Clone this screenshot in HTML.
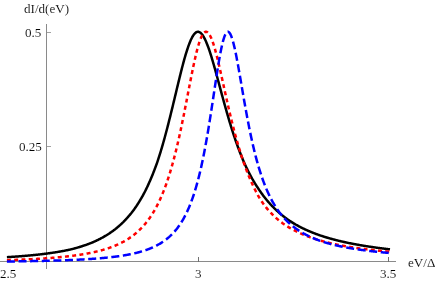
<!DOCTYPE html>
<html><head><meta charset="utf-8"><style>
html,body{margin:0;padding:0;background:#fff;}
body{width:436px;height:281px;overflow:hidden;position:relative;font-family:"Liberation Serif",serif;color:#000;}
svg{position:absolute;left:0;top:0;}
.t{position:absolute;font-size:13.1px;line-height:13px;white-space:nowrap;will-change:transform;opacity:0.999;-webkit-text-stroke:0.12px #fff;}
</style></head><body>
<svg width="436" height="281" viewBox="0 0 436 281">
<g stroke="#8a8a8a" stroke-width="1" fill="none" shape-rendering="crispEdges">
<line x1="0" y1="261.5" x2="396" y2="261.5"/>
<line x1="46.5" y1="24" x2="46.5" y2="269"/>
</g>
<g stroke="#707070" stroke-width="1" fill="none" shape-rendering="crispEdges">
<line x1="198.5" y1="257" x2="198.5" y2="262"/>
<line x1="388.5" y1="257" x2="388.5" y2="262"/>
</g>
<g stroke="#a2a2a2" stroke-width="1" fill="none" shape-rendering="crispEdges">
<line x1="47" y1="32.5" x2="51" y2="32.5"/>
<line x1="47" y1="146.5" x2="51" y2="146.5"/>
</g>
<g fill="none" stroke-width="2.5" stroke-linejoin="round">
<path stroke="#000" d="M6.90,257.16 L7.30,257.14 L7.70,257.12 L8.10,257.09 L8.50,257.07 L8.90,257.04 L9.30,257.02 L9.70,256.99 L10.10,256.96 L10.50,256.94 L10.90,256.91 L11.30,256.89 L11.70,256.86 L12.10,256.83 L12.50,256.81 L12.90,256.78 L13.30,256.75 L13.70,256.73 L14.10,256.70 L14.50,256.67 L14.90,256.64 L15.30,256.62 L15.70,256.59 L16.10,256.56 L16.50,256.53 L16.90,256.50 L17.30,256.47 L17.70,256.44 L18.10,256.41 L18.50,256.38 L18.90,256.35 L19.30,256.32 L19.70,256.29 L20.10,256.26 L20.50,256.23 L20.90,256.20 L21.30,256.17 L21.70,256.14 L22.10,256.10 L22.50,256.07 L22.90,256.04 L23.30,256.01 L23.70,255.97 L24.10,255.94 L24.50,255.91 L24.90,255.87 L25.30,255.84 L25.70,255.81 L26.10,255.77 L26.50,255.74 L26.90,255.70 L27.30,255.67 L27.70,255.63 L28.10,255.59 L28.50,255.56 L28.90,255.52 L29.30,255.48 L29.70,255.45 L30.10,255.41 L30.50,255.37 L30.90,255.33 L31.30,255.30 L31.70,255.26 L32.10,255.22 L32.50,255.18 L32.90,255.14 L33.30,255.10 L33.70,255.06 L34.10,255.02 L34.50,254.98 L34.90,254.94 L35.30,254.90 L35.70,254.86 L36.10,254.81 L36.50,254.77 L36.90,254.73 L37.30,254.69 L37.70,254.64 L38.10,254.60 L38.50,254.55 L38.90,254.51 L39.30,254.47 L39.70,254.42 L40.10,254.37 L40.50,254.33 L40.90,254.28 L41.30,254.24 L41.70,254.19 L42.10,254.14 L42.50,254.09 L42.90,254.04 L43.30,254.00 L43.70,253.95 L44.10,253.90 L44.50,253.85 L44.90,253.80 L45.30,253.75 L45.70,253.69 L46.10,253.64 L46.50,253.59 L46.90,253.54 L47.30,253.49 L47.70,253.43 L48.10,253.38 L48.50,253.32 L48.90,253.27 L49.30,253.21 L49.70,253.16 L50.10,253.10 L50.50,253.05 L50.90,252.99 L51.30,252.93 L51.70,252.87 L52.10,252.81 L52.50,252.75 L52.90,252.69 L53.30,252.63 L53.70,252.57 L54.10,252.51 L54.50,252.45 L54.90,252.39 L55.30,252.33 L55.70,252.26 L56.10,252.20 L56.50,252.13 L56.90,252.07 L57.30,252.00 L57.70,251.94 L58.10,251.87 L58.50,251.80 L58.90,251.73 L59.30,251.66 L59.70,251.59 L60.10,251.52 L60.50,251.45 L60.90,251.38 L61.30,251.31 L61.70,251.24 L62.10,251.16 L62.50,251.09 L62.90,251.02 L63.30,250.94 L63.70,250.86 L64.10,250.79 L64.50,250.71 L64.90,250.63 L65.30,250.55 L65.70,250.47 L66.10,250.39 L66.50,250.31 L66.90,250.23 L67.30,250.15 L67.70,250.07 L68.10,249.98 L68.50,249.90 L68.90,249.81 L69.30,249.72 L69.70,249.64 L70.10,249.55 L70.50,249.45 L70.90,249.35 L71.30,249.25 L71.70,249.15 L72.10,249.05 L72.50,248.94 L72.90,248.84 L73.30,248.74 L73.70,248.63 L74.10,248.53 L74.50,248.42 L74.90,248.31 L75.30,248.20 L75.70,248.09 L76.10,247.98 L76.50,247.87 L76.90,247.76 L77.30,247.64 L77.70,247.53 L78.10,247.41 L78.50,247.29 L78.90,247.17 L79.30,247.06 L79.70,246.93 L80.10,246.81 L80.50,246.69 L80.90,246.57 L81.30,246.44 L81.70,246.32 L82.10,246.19 L82.50,246.06 L82.90,245.93 L83.30,245.80 L83.70,245.67 L84.10,245.53 L84.50,245.40 L84.90,245.26 L85.30,245.12 L85.70,244.99 L86.10,244.85 L86.50,244.70 L86.90,244.56 L87.30,244.42 L87.70,244.27 L88.10,244.13 L88.50,243.98 L88.90,243.83 L89.30,243.68 L89.70,243.52 L90.10,243.37 L90.50,243.21 L90.90,243.05 L91.30,242.89 L91.70,242.73 L92.10,242.57 L92.50,242.40 L92.90,242.23 L93.30,242.06 L93.70,241.88 L94.10,241.70 L94.50,241.52 L94.90,241.34 L95.30,241.16 L95.70,240.98 L96.10,240.79 L96.50,240.60 L96.90,240.41 L97.30,240.22 L97.70,240.03 L98.10,239.83 L98.50,239.64 L98.90,239.44 L99.30,239.24 L99.70,239.03 L100.10,238.83 L100.50,238.62 L100.90,238.41 L101.30,238.20 L101.70,237.98 L102.10,237.76 L102.50,237.54 L102.90,237.32 L103.30,237.10 L103.70,236.87 L104.10,236.64 L104.50,236.41 L104.90,236.18 L105.30,235.94 L105.70,235.70 L106.10,235.46 L106.50,235.22 L106.90,234.97 L107.30,234.72 L107.70,234.47 L108.10,234.21 L108.50,233.96 L108.90,233.70 L109.30,233.44 L109.70,233.17 L110.10,232.90 L110.50,232.63 L110.90,232.35 L111.30,232.08 L111.70,231.79 L112.10,231.51 L112.50,231.22 L112.90,230.93 L113.30,230.64 L113.70,230.34 L114.10,230.04 L114.50,229.73 L114.90,229.43 L115.30,229.11 L115.70,228.80 L116.10,228.48 L116.50,228.16 L116.90,227.83 L117.30,227.50 L117.70,227.16 L118.10,226.82 L118.50,226.48 L118.90,226.13 L119.30,225.78 L119.70,225.43 L120.10,225.07 L120.50,224.70 L120.90,224.33 L121.30,223.96 L121.70,223.58 L122.10,223.20 L122.50,222.81 L122.90,222.42 L123.30,222.03 L123.70,221.62 L124.10,221.22 L124.50,220.81 L124.90,220.39 L125.30,219.97 L125.70,219.54 L126.10,219.11 L126.50,218.67 L126.90,218.23 L127.30,217.78 L127.70,217.32 L128.10,216.87 L128.48,216.44 L128.87,216.00 L129.26,215.55 L129.64,215.10 L130.03,214.64 L130.42,214.18 L130.80,213.71 L131.19,213.23 L131.58,212.75 L131.96,212.26 L132.35,211.76 L132.74,211.26 L133.12,210.75 L133.51,210.23 L133.90,209.71 L134.28,209.18 L134.67,208.64 L135.06,208.09 L135.44,207.53 L135.83,206.97 L136.22,206.40 L136.60,205.82 L136.99,205.23 L137.38,204.64 L137.76,204.04 L138.15,203.42 L138.54,202.80 L138.92,202.17 L139.31,201.54 L139.70,200.90 L140.09,200.27 L140.47,199.63 L140.86,198.98 L141.25,198.33 L141.64,197.66 L142.03,196.99 L142.41,196.30 L142.80,195.61 L143.19,194.90 L143.58,194.19 L143.97,193.46 L144.35,192.72 L144.74,191.97 L145.13,191.22 L145.52,190.45 L145.91,189.67 L146.29,188.88 L146.68,188.07 L147.07,187.26 L147.46,186.43 L147.85,185.60 L148.23,184.75 L148.62,183.88 L149.01,183.01 L149.41,182.11 L149.83,181.17 L150.25,180.21 L150.67,179.24 L151.09,178.25 L151.51,177.25 L151.93,176.24 L152.35,175.22 L152.77,174.18 L153.19,173.13 L153.61,172.07 L154.03,170.99 L154.45,169.90 L154.87,168.79 L155.29,167.68 L155.71,166.54 L156.13,165.40 L156.55,164.23 L156.97,163.06 L157.39,161.87 L157.80,160.66 L158.20,159.44 L158.60,158.21 L159.00,156.96 L159.40,155.70 L159.80,154.42 L160.20,153.13 L160.60,151.83 L161.00,150.50 L161.40,149.17 L161.80,147.82 L162.20,146.45 L162.60,145.08 L163.00,143.68 L163.40,142.27 L163.80,140.85 L164.20,139.42 L164.60,137.97 L165.00,136.50 L165.40,135.03 L165.80,133.53 L166.20,132.03 L166.60,130.51 L167.00,128.98 L167.40,127.44 L167.80,125.89 L168.20,124.32 L168.60,122.74 L169.00,121.16 L169.40,119.56 L169.80,117.95 L170.21,116.33 L170.61,114.70 L171.02,113.06 L171.43,111.41 L171.83,109.76 L172.24,108.09 L172.64,106.42 L173.05,104.75 L173.46,103.07 L173.86,101.38 L174.27,99.70 L174.67,98.00 L175.08,96.31 L175.49,94.61 L175.89,92.92 L176.30,91.22 L176.70,89.52 L177.11,87.83 L177.52,86.14 L177.92,84.45 L178.33,82.77 L178.73,81.10 L179.14,79.43 L179.55,77.77 L179.95,76.12 L180.36,74.48 L180.76,72.85 L181.17,71.24 L181.58,69.64 L181.98,68.06 L182.39,66.49 L182.79,64.94 L183.20,63.41 L183.61,61.91 L184.01,60.42 L184.42,58.96 L184.82,57.52 L185.23,56.11 L185.64,54.73 L186.04,53.37 L186.45,52.05 L186.85,50.76 L187.26,49.50 L187.67,48.28 L188.07,47.09 L188.48,45.93 L188.88,44.82 L189.29,43.74 L189.70,42.71 L190.10,41.72 L190.50,40.76 L190.90,39.86 L191.30,38.99 L191.70,38.18 L192.10,37.40 L192.50,36.68 L192.90,36.00 L193.30,35.38 L193.70,34.80 L194.10,34.27 L194.50,33.79 L194.90,33.36 L195.30,32.99 L195.70,32.66 L196.10,32.39 L196.50,32.17 L196.90,32.00 L197.30,31.88 L197.70,31.81 L198.10,31.80 L198.50,31.84 L198.90,31.93 L199.30,32.07 L199.70,32.27 L200.10,32.51 L200.50,32.80 L200.90,33.14 L201.30,33.53 L201.70,33.97 L202.10,34.46 L202.50,34.99 L202.90,35.57 L203.30,36.20 L203.70,36.86 L204.10,37.57 L204.50,38.32 L204.90,39.12 L205.30,39.95 L205.70,40.82 L206.10,41.73 L206.50,42.68 L206.90,43.66 L207.30,44.67 L207.70,45.72 L208.10,46.80 L208.50,47.91 L208.90,49.04 L209.30,50.21 L209.70,51.40 L210.10,52.62 L210.50,53.86 L210.90,55.12 L211.30,56.41 L211.70,57.72 L212.10,59.04 L212.50,60.39 L212.90,61.75 L213.30,63.12 L213.70,64.51 L214.10,65.92 L214.50,67.33 L214.90,68.76 L215.30,70.20 L215.70,71.65 L216.10,73.10 L216.50,74.56 L216.90,76.03 L217.30,77.51 L217.70,78.99 L218.10,80.47 L218.50,81.95 L218.90,83.44 L219.30,84.93 L219.70,86.42 L220.10,87.90 L220.50,89.39 L220.90,90.88 L221.30,92.36 L221.70,93.84 L222.10,95.32 L222.50,96.79 L222.90,98.26 L223.30,99.72 L223.70,101.18 L224.10,102.63 L224.50,104.08 L224.90,105.51 L225.30,106.94 L225.70,108.37 L226.10,109.78 L226.50,111.19 L226.90,112.59 L227.30,113.97 L227.70,115.35 L228.10,116.72 L228.50,118.08 L228.90,119.44 L229.30,120.78 L229.70,122.11 L230.10,123.42 L230.50,124.73 L230.90,126.03 L231.30,127.32 L231.70,128.60 L232.10,129.86 L232.50,131.11 L232.90,132.36 L233.30,133.59 L233.70,134.81 L234.10,136.02 L234.50,137.21 L234.90,138.40 L235.30,139.57 L235.70,140.73 L236.10,141.88 L236.50,143.02 L236.90,144.15 L237.30,145.26 L237.70,146.37 L238.10,147.46 L238.50,148.54 L238.90,149.61 L239.30,150.67 L239.70,151.72 L240.10,152.75 L240.50,153.78 L240.90,154.79 L241.30,155.79 L241.70,156.79 L242.10,157.77 L242.50,158.74 L242.90,159.70 L243.30,160.64 L243.70,161.58 L244.10,162.51 L244.50,163.42 L244.90,164.33 L245.30,165.21 L245.70,166.07 L246.10,166.92 L246.50,167.76 L246.90,168.59 L247.30,169.41 L247.70,170.23 L248.10,171.03 L248.50,171.82 L248.90,172.60 L249.30,173.38 L249.70,174.14 L250.10,174.90 L250.50,175.65 L250.90,176.38 L251.30,177.11 L251.70,177.83 L252.10,178.54 L252.50,179.25 L252.90,179.94 L253.30,180.63 L253.70,181.31 L254.10,181.97 L254.50,182.64 L254.90,183.29 L255.30,183.94 L255.70,184.58 L256.10,185.21 L256.50,185.83 L256.90,186.44 L257.30,187.05 L257.70,187.65 L258.10,188.25 L258.50,188.87 L258.90,189.47 L259.30,190.07 L259.70,190.66 L260.10,191.24 L260.50,191.82 L260.90,192.39 L261.30,192.95 L261.70,193.51 L262.10,194.06 L262.50,194.61 L262.90,195.15 L263.30,195.68 L263.70,196.21 L264.10,196.73 L264.50,197.24 L264.90,197.75 L265.30,198.26 L265.70,198.75 L266.10,199.25 L266.50,199.73 L266.90,200.21 L267.30,200.69 L267.70,201.16 L268.10,201.63 L268.50,202.09 L268.90,202.54 L269.30,202.99 L269.70,203.44 L270.10,203.88 L270.50,204.32 L270.90,204.75 L271.30,205.17 L271.70,205.60 L272.10,206.01 L272.50,206.43 L272.90,206.83 L273.30,207.24 L273.70,207.64 L274.10,208.03 L274.50,208.42 L274.90,208.81 L275.30,209.20 L275.70,209.58 L276.10,209.96 L276.50,210.34 L276.90,210.71 L277.30,211.08 L277.70,211.45 L278.10,211.81 L278.50,212.16 L278.90,212.52 L279.30,212.87 L279.70,213.21 L280.10,213.56 L280.50,213.90 L280.90,214.23 L281.30,214.57 L281.70,214.90 L282.10,215.22 L282.50,215.54 L282.90,215.86 L283.30,216.18 L283.70,216.49 L284.10,216.80 L284.50,217.11 L284.90,217.42 L285.30,217.72 L285.70,218.02 L286.10,218.31 L286.50,218.60 L286.90,218.89 L287.30,219.18 L287.70,219.46 L288.10,219.75 L288.50,220.03 L288.90,220.30 L289.30,220.57 L289.70,220.85 L290.10,221.11 L290.50,221.37 L290.90,221.63 L291.30,221.89 L291.70,222.14 L292.10,222.39 L292.50,222.64 L292.90,222.89 L293.30,223.13 L293.70,223.37 L294.10,223.61 L294.50,223.85 L294.90,224.08 L295.30,224.31 L295.70,224.55 L296.10,224.77 L296.50,225.00 L296.90,225.22 L297.30,225.45 L297.70,225.67 L298.10,225.88 L298.50,226.10 L298.90,226.31 L299.30,226.53 L299.70,226.74 L300.10,226.95 L300.50,227.15 L300.90,227.36 L301.30,227.56 L301.70,227.76 L302.10,227.96 L302.50,228.16 L302.90,228.35 L303.30,228.55 L303.70,228.74 L304.10,228.93 L304.50,229.12 L304.90,229.31 L305.30,229.49 L305.70,229.68 L306.10,229.86 L306.50,230.04 L306.90,230.22 L307.30,230.40 L307.70,230.58 L308.10,230.75 L308.50,230.92 L308.90,231.10 L309.30,231.27 L309.70,231.44 L310.10,231.60 L310.50,231.77 L310.90,231.94 L311.30,232.10 L311.70,232.26 L312.10,232.42 L312.50,232.58 L312.90,232.74 L313.30,232.90 L313.70,233.05 L314.10,233.21 L314.50,233.36 L314.90,233.51 L315.30,233.66 L315.70,233.81 L316.10,233.96 L316.50,234.11 L316.90,234.26 L317.30,234.40 L317.70,234.54 L318.10,234.69 L318.50,234.83 L318.90,234.97 L319.30,235.11 L319.70,235.25 L320.10,235.38 L320.50,235.52 L320.90,235.65 L321.30,235.79 L321.70,235.92 L322.10,236.05 L322.50,236.18 L322.90,236.31 L323.30,236.44 L323.70,236.57 L324.10,236.70 L324.50,236.82 L324.90,236.95 L325.30,237.07 L325.70,237.20 L326.10,237.32 L326.50,237.44 L326.90,237.56 L327.30,237.68 L327.70,237.80 L328.10,237.92 L328.50,238.03 L328.90,238.15 L329.30,238.26 L329.70,238.38 L330.10,238.49 L330.50,238.61 L330.90,238.72 L331.30,238.83 L331.70,238.94 L332.10,239.05 L332.50,239.16 L332.90,239.26 L333.30,239.37 L333.70,239.48 L334.10,239.58 L334.50,239.69 L334.90,239.79 L335.30,239.90 L335.70,240.00 L336.10,240.10 L336.50,240.20 L336.90,240.30 L337.30,240.40 L337.70,240.50 L338.10,240.60 L338.50,240.70 L338.90,240.80 L339.30,240.89 L339.70,240.99 L340.10,241.08 L340.50,241.18 L340.90,241.27 L341.30,241.37 L341.70,241.46 L342.10,241.55 L342.50,241.64 L342.90,241.73 L343.30,241.82 L343.70,241.91 L344.10,242.00 L344.50,242.09 L344.90,242.18 L345.30,242.27 L345.70,242.35 L346.10,242.44 L346.50,242.52 L346.90,242.61 L347.30,242.69 L347.70,242.78 L348.10,242.86 L348.50,242.94 L348.90,243.03 L349.30,243.11 L349.70,243.19 L350.10,243.27 L350.50,243.35 L350.90,243.43 L351.30,243.51 L351.70,243.59 L352.10,243.67 L352.50,243.74 L352.90,243.82 L353.30,243.90 L353.70,243.97 L354.10,244.05 L354.50,244.13 L354.90,244.20 L355.30,244.28 L355.70,244.35 L356.10,244.42 L356.50,244.50 L356.90,244.57 L357.30,244.64 L357.70,244.71 L358.10,244.78 L358.50,244.85 L358.90,244.93 L359.30,245.00 L359.70,245.07 L360.10,245.13 L360.50,245.20 L360.90,245.27 L361.30,245.34 L361.70,245.41 L362.10,245.47 L362.50,245.54 L362.90,245.61 L363.30,245.67 L363.70,245.74 L364.10,245.80 L364.50,245.87 L364.90,245.93 L365.30,246.00 L365.70,246.06 L366.10,246.13 L366.50,246.19 L366.90,246.25 L367.30,246.31 L367.70,246.38 L368.10,246.44 L368.50,246.50 L368.90,246.56 L369.30,246.62 L369.70,246.68 L370.10,246.74 L370.50,246.80 L370.90,246.86 L371.30,246.92 L371.70,246.98 L372.10,247.03 L372.50,247.09 L372.90,247.15 L373.30,247.21 L373.70,247.26 L374.10,247.32 L374.50,247.38 L374.90,247.43 L375.30,247.49 L375.70,247.54 L376.10,247.60 L376.50,247.65 L376.90,247.71 L377.30,247.76 L377.70,247.82 L378.10,247.87 L378.50,247.92 L378.90,247.98 L379.30,248.03 L379.70,248.08 L380.10,248.14 L380.50,248.19 L380.90,248.24 L381.30,248.29 L381.70,248.34 L382.10,248.39 L382.50,248.44 L382.90,248.49 L383.30,248.54 L383.70,248.59 L384.10,248.64 L384.50,248.69 L384.90,248.74 L385.30,248.79 L385.70,248.84 L386.10,248.89 L386.50,248.94 L386.90,248.98 L387.30,249.03 L387.70,249.08 L388.10,249.13 L388.50,249.17 L388.90,249.22 L389.30,249.27 L389.70,249.31 L390.00,249.35"/>
<path stroke="#ff0000" stroke-dasharray="3.98 3.295" d="M6.90,260.17 L7.30,260.16 L7.70,260.15 L8.10,260.14 L8.50,260.12 L8.90,260.11 L9.30,260.10 L9.70,260.08 L10.10,260.07 L10.50,260.06 L10.90,260.04 L11.30,260.03 L11.70,260.01 L12.10,260.00 L12.50,259.99 L12.90,259.97 L13.30,259.96 L13.70,259.94 L14.10,259.93 L14.50,259.91 L14.90,259.90 L15.30,259.88 L15.70,259.87 L16.10,259.85 L16.50,259.84 L16.90,259.82 L17.30,259.81 L17.70,259.79 L18.10,259.78 L18.50,259.76 L18.90,259.75 L19.30,259.73 L19.70,259.71 L20.10,259.70 L20.50,259.68 L20.90,259.66 L21.30,259.65 L21.70,259.63 L22.10,259.61 L22.50,259.60 L22.90,259.58 L23.30,259.56 L23.70,259.54 L24.10,259.53 L24.50,259.51 L24.90,259.49 L25.30,259.47 L25.70,259.45 L26.10,259.43 L26.50,259.42 L26.90,259.40 L27.30,259.38 L27.70,259.36 L28.10,259.34 L28.50,259.32 L28.90,259.30 L29.30,259.28 L29.70,259.26 L30.10,259.24 L30.50,259.22 L30.90,259.20 L31.30,259.18 L31.70,259.16 L32.10,259.14 L32.50,259.12 L32.90,259.10 L33.30,259.08 L33.70,259.06 L34.10,259.03 L34.50,259.01 L34.90,258.99 L35.30,258.97 L35.70,258.95 L36.10,258.92 L36.50,258.90 L36.90,258.88 L37.30,258.85 L37.70,258.83 L38.10,258.81 L38.50,258.78 L38.90,258.76 L39.30,258.74 L39.70,258.71 L40.10,258.69 L40.50,258.66 L40.90,258.64 L41.30,258.61 L41.70,258.59 L42.10,258.56 L42.50,258.54 L42.90,258.51 L43.30,258.48 L43.70,258.46 L44.10,258.43 L44.50,258.40 L44.90,258.38 L45.30,258.35 L45.70,258.32 L46.10,258.29 L46.50,258.26 L46.90,258.24 L47.30,258.21 L47.70,258.18 L48.10,258.15 L48.50,258.12 L48.90,258.09 L49.30,258.06 L49.70,258.03 L50.10,258.00 L50.50,257.97 L50.90,257.94 L51.30,257.91 L51.70,257.88 L52.10,257.84 L52.50,257.81 L52.90,257.78 L53.30,257.75 L53.70,257.72 L54.10,257.68 L54.50,257.65 L54.90,257.61 L55.30,257.58 L55.70,257.55 L56.10,257.51 L56.50,257.48 L56.90,257.44 L57.30,257.41 L57.70,257.37 L58.10,257.33 L58.50,257.30 L58.90,257.26 L59.30,257.22 L59.70,257.19 L60.10,257.15 L60.50,257.11 L60.90,257.07 L61.30,257.03 L61.70,256.99 L62.10,256.95 L62.50,256.91 L62.90,256.87 L63.30,256.83 L63.70,256.79 L64.10,256.75 L64.50,256.71 L64.90,256.66 L65.30,256.62 L65.70,256.58 L66.10,256.53 L66.50,256.49 L66.90,256.44 L67.30,256.40 L67.70,256.35 L68.10,256.31 L68.50,256.26 L68.90,256.22 L69.30,256.17 L69.70,256.12 L70.10,256.07 L70.50,256.03 L70.90,255.98 L71.30,255.93 L71.70,255.88 L72.10,255.83 L72.50,255.78 L72.90,255.72 L73.30,255.67 L73.70,255.62 L74.10,255.57 L74.50,255.51 L74.90,255.46 L75.30,255.41 L75.70,255.35 L76.10,255.29 L76.50,255.24 L76.90,255.18 L77.30,255.12 L77.70,255.07 L78.10,255.01 L78.50,254.95 L78.90,254.89 L79.30,254.83 L79.70,254.77 L80.10,254.71 L80.50,254.65 L80.90,254.58 L81.30,254.52 L81.70,254.46 L82.10,254.39 L82.50,254.33 L82.90,254.26 L83.30,254.19 L83.70,254.13 L84.10,254.06 L84.50,253.99 L84.90,253.92 L85.30,253.85 L85.70,253.78 L86.10,253.71 L86.50,253.64 L86.90,253.56 L87.30,253.49 L87.70,253.41 L88.10,253.34 L88.50,253.26 L88.90,253.18 L89.30,253.11 L89.70,253.03 L90.10,252.95 L90.50,252.87 L90.90,252.79 L91.30,252.70 L91.70,252.62 L92.10,252.54 L92.50,252.45 L92.90,252.37 L93.30,252.28 L93.70,252.19 L94.10,252.10 L94.50,252.01 L94.90,251.92 L95.30,251.83 L95.70,251.74 L96.10,251.64 L96.50,251.55 L96.90,251.45 L97.30,251.36 L97.70,251.26 L98.10,251.16 L98.50,251.06 L98.90,250.96 L99.30,250.85 L99.70,250.75 L100.10,250.64 L100.50,250.54 L100.90,250.43 L101.30,250.32 L101.70,250.21 L102.10,250.10 L102.50,249.99 L102.90,249.87 L103.30,249.76 L103.70,249.64 L104.10,249.52 L104.50,249.41 L104.90,249.28 L105.30,249.16 L105.70,249.04 L106.10,248.91 L106.50,248.79 L106.90,248.66 L107.30,248.53 L107.70,248.40 L108.10,248.27 L108.50,248.13 L108.90,248.00 L109.30,247.86 L109.70,247.72 L110.10,247.58 L110.50,247.43 L110.90,247.29 L111.30,247.14 L111.70,247.00 L112.10,246.85 L112.50,246.69 L112.90,246.54 L113.30,246.38 L113.70,246.23 L114.10,246.07 L114.50,245.91 L114.90,245.74 L115.30,245.58 L115.70,245.41 L116.10,245.24 L116.50,245.07 L116.90,244.89 L117.30,244.71 L117.70,244.54 L118.10,244.35 L118.50,244.17 L118.90,243.98 L119.30,243.80 L119.70,243.61 L120.10,243.41 L120.50,243.22 L120.90,243.02 L121.30,242.82 L121.70,242.61 L122.10,242.41 L122.50,242.20 L122.90,241.98 L123.30,241.77 L123.70,241.55 L124.10,241.33 L124.50,241.11 L124.90,240.88 L125.30,240.65 L125.70,240.42 L126.10,240.18 L126.50,239.94 L126.90,239.70 L127.30,239.45 L127.70,239.20 L128.10,238.95 L128.50,238.69 L128.90,238.43 L129.30,238.17 L129.70,237.90 L130.10,237.63 L130.50,237.35 L130.90,237.07 L131.30,236.79 L131.70,236.50 L132.10,236.21 L132.50,235.91 L132.90,235.61 L133.30,235.31 L133.70,235.00 L134.10,234.69 L134.50,234.37 L134.90,234.05 L135.30,233.72 L135.70,233.39 L136.10,233.05 L136.50,232.71 L136.90,232.36 L137.30,232.01 L137.70,231.65 L138.10,231.29 L138.50,230.92 L138.90,230.54 L139.30,230.16 L139.70,229.78 L140.10,229.39 L140.50,228.99 L140.90,228.59 L141.30,228.18 L141.70,227.76 L142.10,227.34 L142.50,226.91 L142.90,226.48 L143.30,226.03 L143.70,225.59 L144.10,225.13 L144.50,224.67 L144.90,224.20 L145.30,223.72 L145.70,223.23 L146.10,222.74 L146.50,222.24 L146.90,221.73 L147.30,221.21 L147.70,220.69 L148.10,220.15 L148.50,219.61 L148.90,219.06 L149.30,218.50 L149.70,217.93 L150.10,217.36 L150.50,216.77 L150.90,216.17 L151.30,215.57 L151.70,214.95 L152.10,214.32 L152.50,213.69 L152.90,213.04 L153.30,212.38 L153.70,211.71 L154.10,211.03 L154.50,210.34 L154.90,209.64 L155.30,208.93 L155.70,208.20 L156.10,207.46 L156.50,206.72 L156.90,205.95 L157.30,205.18 L157.70,204.39 L158.10,203.59 L158.50,202.78 L158.90,201.95 L159.30,201.11 L159.70,200.25 L160.10,199.38 L160.50,198.50 L160.90,197.60 L161.30,196.68 L161.70,195.76 L162.10,194.81 L162.50,193.85 L162.90,192.87 L163.30,191.88 L163.70,190.87 L164.10,189.85 L164.50,188.80 L164.90,187.74 L165.30,186.67 L165.70,185.57 L166.10,184.46 L166.50,183.33 L166.90,182.18 L167.30,181.01 L167.70,179.82 L168.10,178.62 L168.50,177.39 L168.90,176.15 L169.30,174.88 L169.70,173.60 L170.10,172.29 L170.50,170.97 L170.90,169.62 L171.30,168.25 L171.70,166.86 L172.10,165.46 L172.50,164.03 L172.90,162.57 L173.30,161.10 L173.70,159.61 L174.10,158.09 L174.50,156.55 L174.90,154.99 L175.30,153.41 L175.70,151.80 L176.10,150.18 L176.50,148.53 L176.90,146.86 L177.30,145.17 L177.70,143.46 L178.10,141.73 L178.50,139.97 L178.90,138.20 L179.30,136.40 L179.70,134.59 L180.10,132.75 L180.50,130.89 L180.90,129.02 L181.30,127.13 L181.70,125.21 L182.10,123.29 L182.50,121.34 L182.90,119.38 L183.30,117.40 L183.70,115.41 L184.10,113.41 L184.50,111.39 L184.90,109.36 L185.30,107.32 L185.70,105.27 L186.10,103.21 L186.50,101.15 L186.90,99.08 L187.30,97.01 L187.70,94.93 L188.10,92.85 L188.50,90.77 L188.90,88.70 L189.30,86.63 L189.70,84.56 L190.10,82.51 L190.50,80.46 L190.90,78.42 L191.30,76.40 L191.70,74.39 L192.10,72.40 L192.50,70.44 L192.90,68.49 L193.30,66.57 L193.70,64.68 L194.10,62.82 L194.50,60.99 L194.90,59.19 L195.30,57.43 L195.70,55.71 L196.10,54.04 L196.50,52.40 L196.90,50.82 L197.30,49.28 L197.70,47.80 L198.10,46.37 L198.50,44.99 L198.90,43.68 L199.30,42.42 L199.70,41.23 L200.10,40.10 L200.50,39.03 L200.90,38.04 L201.30,37.11 L201.70,36.26 L202.10,35.47 L202.50,34.76 L202.90,34.13 L203.30,33.57 L203.70,33.08 L204.10,32.68 L204.50,32.35 L204.90,32.09 L205.30,31.92 L205.70,31.82 L206.10,31.80 L206.50,31.86 L206.90,31.99 L207.30,32.21 L207.70,32.49 L208.10,32.85 L208.50,33.29 L208.90,33.79 L209.30,34.37 L209.70,35.02 L210.10,35.73 L210.50,36.51 L210.90,37.36 L211.30,38.27 L211.70,39.24 L212.10,40.27 L212.50,41.35 L212.90,42.49 L213.30,43.69 L213.70,44.93 L214.10,46.22 L214.50,47.56 L214.90,48.94 L215.30,50.37 L215.70,51.83 L216.10,53.33 L216.50,54.87 L216.90,56.43 L217.30,58.03 L217.70,59.66 L218.10,61.31 L218.50,62.98 L218.90,64.68 L219.30,66.40 L219.70,68.13 L220.10,69.88 L220.50,71.65 L220.90,73.42 L221.30,75.21 L221.70,77.01 L222.10,78.81 L222.50,80.62 L222.90,82.43 L223.30,84.24 L223.70,86.06 L224.10,87.88 L224.50,89.69 L224.90,91.50 L225.30,93.31 L225.70,95.11 L226.10,96.91 L226.50,98.70 L226.90,100.48 L227.30,102.25 L227.70,104.02 L228.10,105.77 L228.50,107.51 L228.90,109.24 L229.30,110.96 L229.70,112.67 L230.10,114.36 L230.50,116.04 L230.90,117.70 L231.30,119.35 L231.70,120.99 L232.10,122.60 L232.50,124.21 L232.90,125.79 L233.30,127.37 L233.70,128.92 L234.10,130.46 L234.50,131.98 L234.90,133.48 L235.30,134.97 L235.70,136.44 L236.10,137.89 L236.50,139.33 L236.90,140.75 L237.30,142.15 L237.70,143.53 L238.10,144.90 L238.50,146.25 L238.90,147.58 L239.30,148.89 L239.70,150.19 L240.10,151.48 L240.50,152.77 L240.90,154.04 L241.30,155.29 L241.70,156.53 L242.10,157.76 L242.50,158.96 L242.90,160.15 L243.30,161.33 L243.70,162.49 L244.10,163.63 L244.50,164.76 L244.90,165.87 L245.30,166.97 L245.70,168.05 L246.10,169.12 L246.50,170.17 L246.90,171.21 L247.30,172.23 L247.70,173.24 L248.10,174.24 L248.50,175.22 L248.90,176.19 L249.30,177.15 L249.70,178.09 L250.10,179.02 L250.50,179.96 L250.90,180.88 L251.30,181.80 L251.70,182.70 L252.10,183.58 L252.50,184.46 L252.90,185.32 L253.30,186.18 L253.70,187.02 L254.10,187.85 L254.50,188.66 L254.90,189.47 L255.30,190.27 L255.70,191.06 L256.10,191.83 L256.50,192.60 L256.90,193.35 L257.30,194.10 L257.70,194.84 L258.10,195.56 L258.50,196.28 L258.90,196.99 L259.30,197.69 L259.70,198.38 L260.10,199.04 L260.50,199.65 L260.90,200.26 L261.30,200.85 L261.70,201.44 L262.10,202.02 L262.50,202.59 L262.90,203.15 L263.30,203.70 L263.70,204.25 L264.10,204.79 L264.50,205.32 L264.90,205.85 L265.30,206.36 L265.70,206.87 L266.10,207.38 L266.50,207.87 L266.90,208.36 L267.30,208.85 L267.70,209.32 L268.10,209.79 L268.50,210.25 L268.90,210.71 L269.30,211.16 L269.70,211.61 L270.10,212.05 L270.50,212.48 L270.90,212.91 L271.30,213.33 L271.70,213.74 L272.10,214.15 L272.50,214.56 L272.90,214.96 L273.30,215.35 L273.70,215.74 L274.10,216.12 L274.50,216.50 L274.90,216.88 L275.30,217.25 L275.70,217.61 L276.10,217.97 L276.50,218.33 L276.90,218.68 L277.30,219.02 L277.70,219.36 L278.10,219.70 L278.50,220.03 L278.90,220.36 L279.30,220.69 L279.70,221.01 L280.10,221.32 L280.50,221.64 L280.90,221.95 L281.30,222.25 L281.70,222.55 L282.10,222.85 L282.50,223.14 L282.90,223.43 L283.30,223.71 L283.70,223.99 L284.10,224.27 L284.50,224.55 L284.90,224.82 L285.30,225.08 L285.70,225.35 L286.10,225.61 L286.50,225.87 L286.90,226.12 L287.30,226.37 L287.70,226.62 L288.10,226.87 L288.50,227.11 L288.90,227.35 L289.30,227.59 L289.70,227.82 L290.10,228.05 L290.50,228.28 L290.90,228.51 L291.30,228.73 L291.70,228.95 L292.10,229.17 L292.50,229.39 L292.90,229.60 L293.30,229.81 L293.70,230.02 L294.10,230.22 L294.50,230.43 L294.90,230.63 L295.30,230.83 L295.70,231.04 L296.10,231.25 L296.50,231.45 L296.90,231.65 L297.30,231.85 L297.70,232.04 L298.10,232.24 L298.50,232.43 L298.90,232.62 L299.30,232.81 L299.70,232.99 L300.10,233.18 L300.50,233.36 L300.90,233.54 L301.30,233.72 L301.70,233.89 L302.10,234.07 L302.50,234.24 L302.90,234.41 L303.30,234.58 L303.70,234.75 L304.10,234.91 L304.50,235.08 L304.90,235.24 L305.30,235.40 L305.70,235.56 L306.10,235.72 L306.50,235.88 L306.90,236.04 L307.30,236.19 L307.70,236.35 L308.10,236.50 L308.50,236.65 L308.90,236.80 L309.30,236.95 L309.70,237.10 L310.10,237.24 L310.50,237.39 L310.90,237.53 L311.30,237.67 L311.70,237.81 L312.10,237.95 L312.50,238.09 L312.90,238.22 L313.30,238.36 L313.70,238.49 L314.10,238.63 L314.50,238.76 L314.90,238.89 L315.30,239.01 L315.70,239.14 L316.10,239.27 L316.50,239.39 L316.90,239.52 L317.30,239.64 L317.70,239.76 L318.10,239.88 L318.50,240.00 L318.90,240.12 L319.30,240.24 L319.70,240.35 L320.10,240.47 L320.50,240.58 L320.90,240.70 L321.30,240.81 L321.70,240.92 L322.10,241.03 L322.50,241.14 L322.90,241.25 L323.30,241.36 L323.70,241.46 L324.10,241.57 L324.50,241.67 L324.90,241.78 L325.30,241.88 L325.70,241.98 L326.10,242.08 L326.50,242.18 L326.90,242.28 L327.30,242.38 L327.70,242.48 L328.10,242.57 L328.50,242.67 L328.90,242.76 L329.30,242.86 L329.70,242.95 L330.10,243.05 L330.50,243.14 L330.90,243.23 L331.30,243.33 L331.70,243.42 L332.10,243.51 L332.50,243.60 L332.90,243.69 L333.30,243.78 L333.70,243.87 L334.10,243.96 L334.50,244.05 L334.90,244.13 L335.30,244.22 L335.70,244.30 L336.10,244.39 L336.50,244.47 L336.90,244.56 L337.30,244.64 L337.70,244.72 L338.10,244.80 L338.50,244.88 L338.90,244.96 L339.30,245.04 L339.70,245.12 L340.10,245.20 L340.50,245.28 L340.90,245.36 L341.30,245.43 L341.70,245.51 L342.10,245.58 L342.50,245.66 L342.90,245.73 L343.30,245.81 L343.70,245.88 L344.10,245.95 L344.50,246.02 L344.90,246.10 L345.30,246.17 L345.70,246.24 L346.10,246.31 L346.50,246.38 L346.90,246.45 L347.30,246.52 L347.70,246.58 L348.10,246.65 L348.50,246.72 L348.90,246.78 L349.30,246.85 L349.70,246.92 L350.10,246.98 L350.50,247.05 L350.90,247.11 L351.30,247.17 L351.70,247.24 L352.10,247.30 L352.50,247.36 L352.90,247.42 L353.30,247.49 L353.70,247.55 L354.10,247.61 L354.50,247.67 L354.90,247.73 L355.30,247.79 L355.70,247.85 L356.10,247.90 L356.50,247.96 L356.90,248.02 L357.30,248.08 L357.70,248.14 L358.10,248.19 L358.50,248.25 L358.90,248.30 L359.30,248.36 L359.70,248.41 L360.10,248.47 L360.50,248.52 L360.90,248.58 L361.30,248.63 L361.70,248.68 L362.10,248.74 L362.50,248.79 L362.90,248.84 L363.30,248.89 L363.70,248.95 L364.10,249.00 L364.50,249.05 L364.90,249.10 L365.30,249.15 L365.70,249.20 L366.10,249.25 L366.50,249.30 L366.90,249.35 L367.30,249.40 L367.70,249.44 L368.10,249.49 L368.50,249.54 L368.90,249.59 L369.30,249.63 L369.70,249.68 L370.10,249.73 L370.50,249.77 L370.90,249.82 L371.30,249.87 L371.70,249.91 L372.10,249.96 L372.50,250.00 L372.90,250.04 L373.30,250.09 L373.70,250.13 L374.10,250.18 L374.50,250.22 L374.90,250.26 L375.30,250.31 L375.70,250.35 L376.10,250.39 L376.50,250.43 L376.90,250.47 L377.30,250.52 L377.70,250.56 L378.10,250.60 L378.50,250.64 L378.90,250.68 L379.30,250.72 L379.70,250.76 L380.10,250.80 L380.50,250.84 L380.90,250.88 L381.30,250.92 L381.70,250.96 L382.10,251.00 L382.50,251.03 L382.90,251.07 L383.30,251.11 L383.70,251.15 L384.10,251.19 L384.50,251.22 L384.90,251.26 L385.30,251.30 L385.70,251.33 L386.10,251.37 L386.50,251.41 L386.90,251.44 L387.30,251.48 L387.70,251.51 L388.10,251.55 L388.50,251.59 L388.90,251.62 L389.30,251.65 L389.70,251.69 L390.00,251.72"/>
<path stroke="#0000ff" stroke-dasharray="8.02 3.6" d="M6.90,261.48 L7.30,261.48 L7.70,261.47 L8.10,261.47 L8.50,261.47 L8.90,261.46 L9.30,261.46 L9.70,261.45 L10.10,261.45 L10.50,261.44 L10.90,261.44 L11.30,261.43 L11.70,261.43 L12.10,261.42 L12.50,261.42 L12.90,261.41 L13.30,261.41 L13.70,261.40 L14.10,261.40 L14.50,261.39 L14.90,261.39 L15.30,261.38 L15.70,261.38 L16.10,261.37 L16.50,261.36 L16.90,261.36 L17.30,261.35 L17.70,261.35 L18.10,261.34 L18.50,261.34 L18.90,261.33 L19.30,261.33 L19.70,261.32 L20.10,261.31 L20.50,261.31 L20.90,261.30 L21.30,261.30 L21.70,261.29 L22.10,261.28 L22.50,261.28 L22.90,261.27 L23.30,261.27 L23.70,261.26 L24.10,261.25 L24.50,261.25 L24.90,261.24 L25.30,261.23 L25.70,261.23 L26.10,261.22 L26.50,261.21 L26.90,261.21 L27.30,261.20 L27.70,261.19 L28.10,261.19 L28.50,261.18 L28.90,261.17 L29.30,261.17 L29.70,261.16 L30.10,261.15 L30.50,261.15 L30.90,261.14 L31.30,261.13 L31.70,261.12 L32.10,261.12 L32.50,261.11 L32.90,261.10 L33.30,261.09 L33.70,261.09 L34.10,261.08 L34.50,261.07 L34.90,261.06 L35.30,261.06 L35.70,261.05 L36.10,261.04 L36.50,261.03 L36.90,261.02 L37.30,261.02 L37.70,261.01 L38.10,261.00 L38.50,260.99 L38.90,260.98 L39.30,260.97 L39.70,260.96 L40.10,260.96 L40.50,260.95 L40.90,260.94 L41.30,260.93 L41.70,260.92 L42.10,260.91 L42.50,260.90 L42.90,260.89 L43.30,260.88 L43.70,260.88 L44.10,260.87 L44.50,260.86 L44.90,260.85 L45.30,260.84 L45.70,260.83 L46.10,260.82 L46.50,260.81 L46.90,260.80 L47.30,260.79 L47.70,260.78 L48.10,260.77 L48.50,260.76 L48.90,260.75 L49.30,260.74 L49.70,260.73 L50.10,260.72 L50.50,260.70 L50.90,260.69 L51.30,260.68 L51.70,260.67 L52.10,260.66 L52.50,260.65 L52.90,260.64 L53.30,260.63 L53.70,260.62 L54.10,260.60 L54.50,260.59 L54.90,260.58 L55.30,260.57 L55.70,260.56 L56.10,260.55 L56.50,260.53 L56.90,260.52 L57.30,260.51 L57.70,260.50 L58.10,260.48 L58.50,260.47 L58.90,260.46 L59.30,260.45 L59.70,260.43 L60.10,260.42 L60.50,260.41 L60.90,260.39 L61.30,260.38 L61.70,260.37 L62.10,260.35 L62.50,260.34 L62.90,260.32 L63.30,260.31 L63.70,260.30 L64.10,260.28 L64.50,260.27 L64.90,260.25 L65.30,260.24 L65.70,260.22 L66.10,260.21 L66.50,260.19 L66.90,260.18 L67.30,260.16 L67.70,260.15 L68.10,260.13 L68.50,260.12 L68.90,260.10 L69.30,260.08 L69.70,260.07 L70.10,260.05 L70.50,260.03 L70.90,260.02 L71.30,260.00 L71.70,259.98 L72.10,259.97 L72.50,259.95 L72.90,259.93 L73.30,259.91 L73.70,259.90 L74.10,259.88 L74.50,259.86 L74.90,259.84 L75.30,259.82 L75.70,259.81 L76.10,259.79 L76.50,259.77 L76.90,259.75 L77.30,259.73 L77.70,259.71 L78.10,259.69 L78.50,259.67 L78.90,259.65 L79.30,259.63 L79.70,259.61 L80.10,259.59 L80.50,259.57 L80.90,259.55 L81.30,259.53 L81.70,259.51 L82.10,259.48 L82.50,259.46 L82.90,259.44 L83.30,259.42 L83.70,259.40 L84.10,259.37 L84.50,259.35 L84.90,259.33 L85.30,259.30 L85.70,259.28 L86.10,259.26 L86.50,259.23 L86.90,259.21 L87.30,259.18 L87.70,259.16 L88.10,259.13 L88.50,259.11 L88.90,259.08 L89.30,259.06 L89.70,259.03 L90.10,259.01 L90.50,258.98 L90.90,258.95 L91.30,258.93 L91.70,258.90 L92.10,258.87 L92.50,258.84 L92.90,258.82 L93.30,258.79 L93.70,258.76 L94.10,258.73 L94.50,258.70 L94.90,258.67 L95.30,258.64 L95.70,258.61 L96.10,258.58 L96.50,258.55 L96.90,258.52 L97.30,258.49 L97.70,258.46 L98.10,258.42 L98.50,258.39 L98.90,258.36 L99.30,258.32 L99.70,258.29 L100.10,258.26 L100.50,258.22 L100.90,258.19 L101.30,258.15 L101.70,258.12 L102.10,258.08 L102.50,258.05 L102.90,258.01 L103.30,257.97 L103.70,257.94 L104.10,257.90 L104.50,257.86 L104.90,257.82 L105.30,257.78 L105.70,257.75 L106.10,257.71 L106.50,257.67 L106.90,257.63 L107.30,257.58 L107.70,257.54 L108.10,257.50 L108.50,257.46 L108.90,257.42 L109.30,257.37 L109.70,257.33 L110.10,257.29 L110.50,257.24 L110.90,257.20 L111.30,257.15 L111.70,257.10 L112.10,257.06 L112.50,257.01 L112.90,256.96 L113.30,256.91 L113.70,256.86 L114.10,256.82 L114.50,256.77 L114.90,256.71 L115.30,256.66 L115.70,256.61 L116.10,256.56 L116.50,256.51 L116.90,256.45 L117.30,256.40 L117.70,256.34 L118.10,256.29 L118.50,256.23 L118.90,256.18 L119.30,256.12 L119.70,256.06 L120.10,256.00 L120.50,255.94 L120.90,255.88 L121.30,255.82 L121.70,255.76 L122.10,255.70 L122.50,255.63 L122.90,255.57 L123.30,255.50 L123.70,255.44 L124.10,255.37 L124.50,255.30 L124.90,255.24 L125.30,255.17 L125.70,255.10 L126.10,255.03 L126.50,254.96 L126.90,254.88 L127.30,254.81 L127.70,254.74 L128.10,254.66 L128.50,254.58 L128.90,254.51 L129.30,254.43 L129.70,254.35 L130.10,254.27 L130.50,254.19 L130.90,254.11 L131.30,254.02 L131.70,253.94 L132.10,253.85 L132.50,253.77 L132.90,253.68 L133.30,253.59 L133.70,253.50 L134.10,253.41 L134.50,253.32 L134.90,253.22 L135.30,253.13 L135.70,253.03 L136.10,252.94 L136.50,252.84 L136.90,252.74 L137.30,252.64 L137.70,252.53 L138.10,252.43 L138.50,252.32 L138.90,252.22 L139.30,252.11 L139.70,252.00 L140.10,251.89 L140.50,251.77 L140.90,251.66 L141.30,251.54 L141.70,251.42 L142.10,251.30 L142.50,251.18 L142.90,251.06 L143.30,250.93 L143.70,250.81 L144.10,250.68 L144.50,250.55 L144.90,250.42 L145.30,250.28 L145.70,250.15 L146.10,250.01 L146.50,249.87 L146.90,249.73 L147.30,249.58 L147.70,249.43 L148.10,249.29 L148.50,249.13 L148.90,248.98 L149.30,248.83 L149.70,248.67 L150.10,248.51 L150.50,248.35 L150.90,248.18 L151.30,248.01 L151.70,247.84 L152.10,247.67 L152.50,247.49 L152.90,247.32 L153.30,247.13 L153.70,246.95 L154.10,246.76 L154.50,246.57 L154.90,246.38 L155.30,246.19 L155.70,245.99 L156.10,245.78 L156.50,245.58 L156.90,245.37 L157.30,245.16 L157.70,244.94 L158.10,244.72 L158.50,244.50 L158.90,244.27 L159.30,244.04 L159.70,243.81 L160.10,243.57 L160.50,243.33 L160.90,243.08 L161.30,242.83 L161.70,242.58 L162.10,242.32 L162.50,242.06 L162.90,241.79 L163.30,241.52 L163.70,241.24 L164.10,240.96 L164.50,240.67 L164.90,240.38 L165.30,240.09 L165.70,239.79 L166.10,239.48 L166.50,239.17 L166.90,238.85 L167.30,238.52 L167.70,238.19 L168.10,237.86 L168.50,237.52 L168.90,237.17 L169.30,236.82 L169.70,236.45 L170.10,236.09 L170.50,235.71 L170.90,235.33 L171.30,234.94 L171.70,234.55 L172.10,234.15 L172.50,233.74 L172.90,233.32 L173.30,232.89 L173.70,232.46 L174.10,232.02 L174.50,231.57 L174.90,231.11 L175.30,230.64 L175.70,230.16 L176.10,229.68 L176.50,229.18 L176.90,228.67 L177.30,228.16 L177.70,227.63 L178.10,227.10 L178.50,226.55 L178.90,225.99 L179.30,225.42 L179.70,224.84 L180.10,224.25 L180.50,223.65 L180.90,223.03 L181.30,222.40 L181.70,221.76 L182.10,221.11 L182.50,220.44 L182.90,219.76 L183.30,219.06 L183.70,218.35 L184.10,217.63 L184.50,216.89 L184.90,216.13 L185.30,215.36 L185.70,214.57 L186.10,213.77 L186.50,212.95 L186.90,212.11 L187.30,211.25 L187.70,210.38 L188.10,209.48 L188.50,208.57 L188.90,207.64 L189.30,206.69 L189.70,205.72 L190.10,204.73 L190.50,203.71 L190.90,202.68 L191.30,201.62 L191.70,200.54 L192.10,199.44 L192.50,198.31 L192.90,197.16 L193.30,195.98 L193.70,194.78 L194.10,193.55 L194.50,192.30 L194.90,191.02 L195.30,189.71 L195.70,188.37 L196.10,187.01 L196.50,185.61 L196.90,184.19 L197.30,182.74 L197.70,181.26 L198.10,179.74 L198.50,178.19 L198.90,176.62 L199.30,175.01 L199.70,173.36 L200.10,171.68 L200.50,169.97 L200.90,168.23 L201.30,166.45 L201.70,164.63 L202.10,162.78 L202.50,160.90 L202.90,158.98 L203.30,157.02 L203.70,155.02 L204.10,152.99 L204.50,150.93 L204.90,148.83 L205.30,146.69 L205.70,144.51 L206.10,142.31 L206.50,140.06 L206.90,137.78 L207.30,135.47 L207.70,133.12 L208.10,130.74 L208.50,128.33 L208.90,125.89 L209.30,123.42 L209.70,120.92 L210.10,118.40 L210.50,115.85 L210.90,113.27 L211.30,110.68 L211.70,108.06 L212.10,105.43 L212.50,102.79 L212.90,100.14 L213.30,97.47 L213.70,94.80 L214.10,92.13 L214.50,89.46 L214.90,86.80 L215.30,84.14 L215.70,81.50 L216.10,78.88 L216.50,76.27 L216.90,73.70 L217.30,71.15 L217.70,68.64 L218.10,66.18 L218.50,63.75 L218.90,61.38 L219.30,59.07 L219.70,56.82 L220.10,54.63 L220.50,52.52 L220.90,50.48 L221.30,48.53 L221.70,46.66 L222.10,44.89 L222.50,43.21 L222.90,41.63 L223.30,40.16 L223.70,38.80 L224.10,37.55 L224.50,36.42 L224.90,35.40 L225.30,34.51 L225.70,33.74 L226.10,33.10 L226.50,32.59 L226.90,32.20 L227.30,31.94 L227.70,31.82 L228.10,31.82 L228.50,31.94 L228.90,32.20 L229.30,32.58 L229.70,33.08 L230.10,33.70 L230.50,34.44 L230.90,35.30 L231.30,36.27 L231.70,37.34 L232.10,38.52 L232.50,39.81 L232.90,41.18 L233.30,42.65 L233.70,44.20 L234.10,45.84 L234.50,47.55 L234.90,49.34 L235.30,51.19 L235.70,53.11 L236.10,55.08 L236.50,57.11 L236.90,59.18 L237.30,61.30 L237.70,63.46 L238.10,65.65 L238.50,67.88 L238.90,70.13 L239.30,72.40 L239.70,74.69 L240.10,77.00 L240.50,79.32 L240.90,81.64 L241.30,83.97 L241.70,86.30 L242.10,88.63 L242.50,90.96 L242.90,93.28 L243.30,95.60 L243.70,97.90 L244.10,100.19 L244.50,102.46 L244.90,104.72 L245.30,106.96 L245.70,109.19 L246.10,111.39 L246.50,113.57 L246.90,115.72 L247.30,117.86 L247.70,119.96 L248.10,122.05 L248.50,124.10 L248.90,126.13 L249.30,128.13 L249.70,130.11 L250.10,132.06 L250.50,133.98 L250.90,135.87 L251.30,137.73 L251.70,139.56 L252.10,141.37 L252.50,143.14 L252.90,144.89 L253.30,146.61 L253.70,148.30 L254.10,149.97 L254.50,151.60 L254.90,153.21 L255.30,154.79 L255.70,156.34 L256.10,157.86 L256.50,159.36 L256.90,160.84 L257.30,162.28 L257.70,163.70 L258.10,165.10 L258.50,166.47 L258.90,167.81 L259.30,169.13 L259.70,170.43 L260.10,171.71 L260.50,172.96 L260.90,174.18 L261.30,175.39 L261.70,176.57 L262.10,177.74 L262.50,178.88 L262.90,180.00 L263.30,181.10 L263.70,182.18 L264.10,183.24 L264.50,184.28 L264.90,185.30 L265.30,186.30 L265.70,187.29 L266.10,188.25 L266.50,189.20 L266.90,190.13 L267.30,191.05 L267.70,191.95 L268.10,192.83 L268.50,193.70 L268.90,194.55 L269.30,195.39 L269.70,196.21 L270.10,197.01 L270.50,197.81 L270.90,198.59 L271.30,199.35 L271.70,200.10 L272.10,200.84 L272.50,201.56 L272.90,202.28 L273.30,202.98 L273.70,203.67 L274.10,204.34 L274.50,205.01 L274.90,205.66 L275.30,206.30 L275.70,206.93 L276.10,207.55 L276.50,208.16 L276.90,208.76 L277.30,209.35 L277.70,209.93 L278.10,210.50 L278.50,211.06 L278.90,211.62 L279.30,212.16 L279.70,212.69 L280.10,213.22 L280.50,213.73 L280.90,214.24 L281.30,214.74 L281.70,215.23 L282.10,215.72 L282.50,216.19 L282.90,216.66 L283.30,217.12 L283.70,217.57 L284.10,218.02 L284.50,218.46 L284.90,218.89 L285.30,219.32 L285.70,219.74 L286.10,220.15 L286.50,220.56 L286.90,220.96 L287.30,221.35 L287.70,221.74 L288.10,222.13 L288.50,222.50 L288.90,222.87 L289.30,223.24 L289.70,223.60 L290.10,223.96 L290.50,224.31 L290.90,224.65 L291.30,224.99 L291.70,225.33 L292.10,225.66 L292.50,225.98 L292.90,226.30 L293.30,226.62 L293.70,226.93 L294.10,227.24 L294.50,227.54 L294.90,227.84 L295.30,228.13 L295.70,228.42 L296.10,228.71 L296.50,228.99 L296.90,229.27 L297.30,229.54 L297.70,229.81 L298.10,230.08 L298.50,230.34 L298.90,230.60 L299.30,230.86 L299.70,231.11 L300.10,231.36 L300.50,231.62 L300.90,231.86 L301.30,232.11 L301.70,232.35 L302.10,232.58 L302.50,232.82 L302.90,233.05 L303.30,233.28 L303.70,233.51 L304.10,233.73 L304.50,233.95 L304.90,234.17 L305.30,234.38 L305.70,234.59 L306.10,234.80 L306.50,235.01 L306.90,235.22 L307.30,235.42 L307.70,235.62 L308.10,235.81 L308.50,236.01 L308.90,236.20 L309.30,236.39 L309.70,236.58 L310.10,236.77 L310.50,236.95 L310.90,237.13 L311.30,237.31 L311.70,237.49 L312.10,237.66 L312.50,237.84 L312.90,238.01 L313.30,238.18 L313.70,238.34 L314.10,238.51 L314.50,238.67 L314.90,238.83 L315.30,238.99 L315.70,239.15 L316.10,239.31 L316.50,239.46 L316.90,239.62 L317.30,239.77 L317.70,239.92 L318.10,240.06 L318.50,240.21 L318.90,240.36 L319.30,240.50 L319.70,240.64 L320.10,240.78 L320.50,240.92 L320.90,241.06 L321.30,241.19 L321.70,241.33 L322.10,241.46 L322.50,241.59 L322.90,241.72 L323.30,241.85 L323.70,241.98 L324.10,242.11 L324.50,242.23 L324.90,242.35 L325.30,242.48 L325.70,242.60 L326.10,242.72 L326.50,242.84 L326.90,242.95 L327.30,243.07 L327.70,243.19 L328.10,243.30 L328.50,243.41 L328.90,243.53 L329.30,243.64 L329.70,243.75 L330.10,243.85 L330.50,243.96 L330.90,244.07 L331.30,244.17 L331.70,244.28 L332.10,244.38 L332.50,244.48 L332.90,244.58 L333.30,244.68 L333.70,244.78 L334.10,244.88 L334.50,244.98 L334.90,245.07 L335.30,245.17 L335.70,245.26 L336.10,245.36 L336.50,245.45 L336.90,245.54 L337.30,245.63 L337.70,245.72 L338.10,245.81 L338.50,245.90 L338.90,245.99 L339.30,246.08 L339.70,246.16 L340.10,246.25 L340.50,246.33 L340.90,246.42 L341.30,246.50 L341.70,246.58 L342.10,246.67 L342.50,246.75 L342.90,246.83 L343.30,246.91 L343.70,246.99 L344.10,247.07 L344.50,247.14 L344.90,247.22 L345.30,247.30 L345.70,247.37 L346.10,247.45 L346.50,247.52 L346.90,247.60 L347.30,247.67 L347.70,247.74 L348.10,247.81 L348.50,247.89 L348.90,247.96 L349.30,248.03 L349.70,248.10 L350.10,248.17 L350.50,248.23 L350.90,248.30 L351.30,248.37 L351.70,248.44 L352.10,248.50 L352.50,248.57 L352.90,248.64 L353.30,248.70 L353.70,248.76 L354.10,248.83 L354.50,248.89 L354.90,248.95 L355.30,249.02 L355.70,249.08 L356.10,249.14 L356.50,249.20 L356.90,249.26 L357.30,249.32 L357.70,249.38 L358.10,249.44 L358.50,249.50 L358.90,249.56 L359.30,249.61 L359.70,249.67 L360.10,249.73 L360.50,249.79 L360.90,249.84 L361.30,249.90 L361.70,249.95 L362.10,250.01 L362.50,250.06 L362.90,250.12 L363.30,250.17 L363.70,250.22 L364.10,250.28 L364.50,250.33 L364.90,250.38 L365.30,250.43 L365.70,250.48 L366.10,250.53 L366.50,250.58 L366.90,250.63 L367.30,250.68 L367.70,250.73 L368.10,250.78 L368.50,250.83 L368.90,250.88 L369.30,250.93 L369.70,250.98 L370.10,251.02 L370.50,251.07 L370.90,251.12 L371.30,251.16 L371.70,251.21 L372.10,251.26 L372.50,251.30 L372.90,251.35 L373.30,251.39 L373.70,251.44 L374.10,251.48 L374.50,251.53 L374.90,251.57 L375.30,251.61 L375.70,251.66 L376.10,251.70 L376.50,251.74 L376.90,251.78 L377.30,251.83 L377.70,251.87 L378.10,251.91 L378.50,251.95 L378.90,251.99 L379.30,252.03 L379.70,252.07 L380.10,252.11 L380.50,252.15 L380.90,252.19 L381.30,252.23 L381.70,252.27 L382.10,252.31 L382.50,252.35 L382.90,252.39 L383.30,252.42 L383.70,252.46 L384.10,252.50 L384.50,252.54 L384.90,252.58 L385.30,252.61 L385.70,252.65 L386.10,252.69 L386.50,252.72 L386.90,252.76 L387.30,252.79 L387.70,252.83 L388.10,252.87 L388.50,252.90 L388.90,252.94 L389.30,252.97 L389.70,253.00 L390.00,253.03"/>
</g>
</svg>
<div class="t" style="left:23.7px;top:2px;">dI/d(eV)</div>
<div class="t" style="left:25px;top:26px;">0.5</div>
<div class="t" style="left:18.6px;top:140px;">0.25</div>
<div class="t" style="left:0px;top:267px;">2.5</div>
<div class="t" style="left:195px;top:267px;">3</div>
<div class="t" style="left:380px;top:267px;">3.5</div>
<div class="t" style="left:408px;top:256px;">eV/&#916;</div>
</body></html>
